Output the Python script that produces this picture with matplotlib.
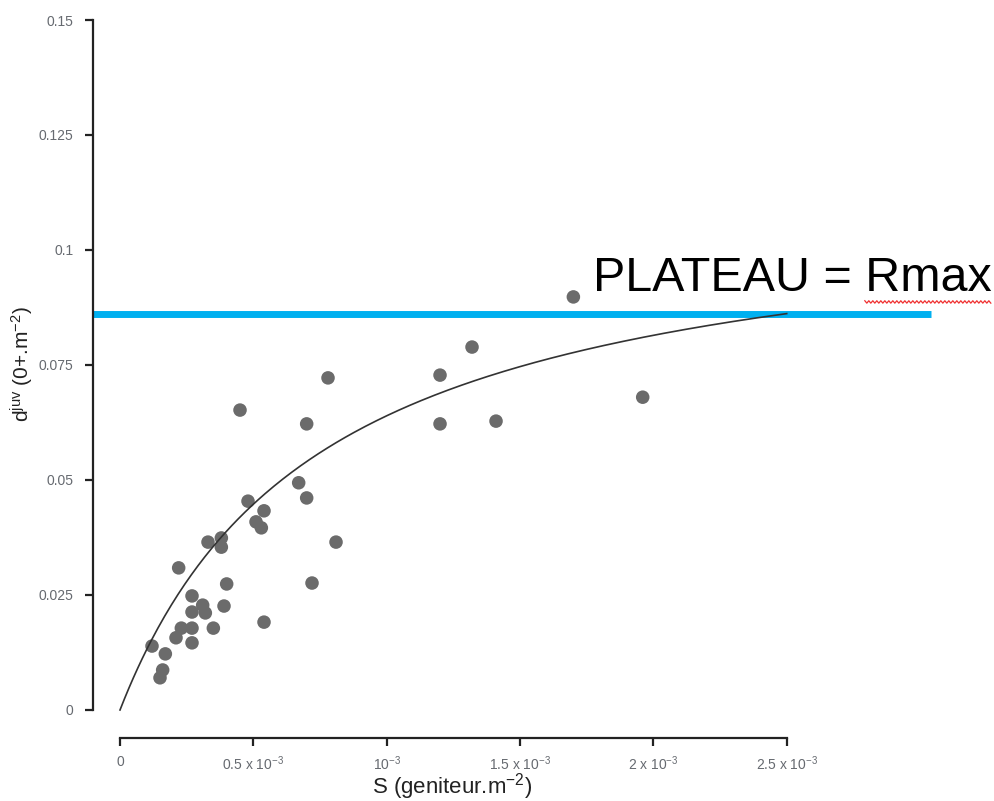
import numpy as np
import matplotlib
matplotlib.use("Agg")
import matplotlib.pyplot as plt
from matplotlib.lines import Line2D
from matplotlib.transforms import IdentityTransform

plt.rcParams['font.family'] = ['Liberation Sans', 'DejaVu Sans']
plt.rcParams['mathtext.fontset'] = 'custom'
plt.rcParams['mathtext.rm'] = 'Liberation Sans'
plt.rcParams['mathtext.it'] = 'Liberation Sans:italic'
plt.rcParams['mathtext.bf'] = 'Liberation Sans:bold'

# Data: spawner density S (in 1e-3 geniteur.m^-2) and juvenile density
S_e3 = [1.70, 1.32, 0.78, 1.20, 0.45, 0.70, 1.20, 1.41, 1.96, 0.67,
        0.70, 0.48, 0.54, 0.51, 0.53, 0.33, 0.38, 0.38, 0.81, 0.22,
        0.40, 0.72, 0.27, 0.31, 0.39, 0.27, 0.32, 0.54, 0.23, 0.27,
        0.35, 0.21, 0.27, 0.12, 0.17, 0.16, 0.15]
djuv = [0.0898, 0.0789, 0.0722, 0.0728, 0.0652, 0.0622, 0.0622, 0.0628, 0.0680, 0.0494,
        0.0461, 0.0454, 0.0433, 0.0409, 0.0396, 0.0365, 0.0374, 0.0354, 0.0365, 0.0309,
        0.0274, 0.0276, 0.0248, 0.0228, 0.0226, 0.0213, 0.0211, 0.0191, 0.0178, 0.0178,
        0.0178, 0.0157, 0.0146, 0.0139, 0.0122, 0.0087, 0.0070]

# Beverton-Holt fitted curve parameters
bh_a = 148.9
bh_b = 1328.0
S_max = 2.5e-3

yticks = [0, 0.025, 0.05, 0.075, 0.1, 0.125, 0.15]
yticklabels = ["0", "0.025", "0.05", "0.075", "0.1", "0.125", "0.15"]
xticks = [0, 0.5e-3, 1e-3, 1.5e-3, 2e-3, 2.5e-3]
xticklabels = ["0", r"0.5 x 10$^{-3}$", r"10$^{-3}$", r"1.5 x 10$^{-3}$",
               r"2 x 10$^{-3}$", r"2.5 x 10$^{-3}$"]

W, H = 995, 801
fig = plt.figure(figsize=(W / 100, H / 100), dpi=100)
ax = fig.add_axes([93 / W, (H - 738) / H, (W - 93) / W, (738 - 20) / H])
ax.set_xlim(-0.10125e-3, 3.281e-3)
ax.set_ylim(-0.006087, 0.15)

for s in ['top', 'right']:
    ax.spines[s].set_visible(False)
ax.spines['left'].set_bounds(0, 0.15)
ax.spines['bottom'].set_bounds(0, 2.5e-3)
for s in ['left', 'bottom']:
    ax.spines[s].set_linewidth(1.6)
    ax.spines[s].set_color('#222222')

ax.set_yticks(yticks)
ax.set_yticklabels(yticklabels)
ax.set_xticks(xticks)
ax.set_xticklabels(xticklabels)
ax.tick_params(axis='both', direction='out', length=6, width=1.6, color='#222222',
               labelsize=10, labelcolor='#666a70')
ax.tick_params(axis='y', pad=8)
ax.tick_params(axis='x', pad=6)

# points
S = np.array(S_e3) * 1e-3
ax.scatter(S, djuv, s=95, color='#6b6b6b', edgecolors='none', zorder=3)

# fitted curve
Sc = np.linspace(0, S_max, 300)
yc = bh_a * Sc / (1 + bh_b * Sc)
ax.plot(Sc, yc, color='#333333', lw=1.2, zorder=4)

# plateau line
plateau = bh_a * S_max / (1 + bh_b * S_max)
ax.plot([-0.10125e-3, 3.04e-3], [plateau, plateau], color='#00b0f0', lw=5,
        solid_capstyle='butt', zorder=2, clip_on=False)

t = ax.text(1.772e-3, 0.0911, "PLATEAU = Rmax", fontsize=34.8, color='black',
            ha='left', va='baseline')

ax.set_ylabel(r"d$^{\mathrm{juv}}$ (0+.m$^{-2}$)", fontsize=15, color='#222222')
ax.yaxis.set_label_coords(-0.078, 0.521)
ax.set_xlabel(r"S (geniteur.m$^{-2}$)", fontsize=16, color='#222222')
ax.xaxis.set_label_coords(0.398, -0.068)
ax.xaxis.label.set_va('center')
ax.yaxis.label.set_va('center')

# red spell-check squiggle under "Rmax"
fig.canvas.draw()
r = fig.canvas.get_renderer()
bb = t.get_window_extent(r)
tmp = ax.text(0, 0, "PLATEAU = ", fontsize=34.8)
wpre = tmp.get_window_extent(r).width
tmp.remove()
x0 = bb.x0 + wpre
x1 = bb.x1
ybase = bb.y0 - 1
xs = np.arange(x0, x1, 2.0)
ys = ybase + np.where((np.arange(len(xs)) % 2) == 0, 1.2, -1.2)
fig.add_artist(Line2D(xs, ys, transform=IdentityTransform(), color='#f03030', lw=0.9))

fig.savefig("out.png", dpi=100)
